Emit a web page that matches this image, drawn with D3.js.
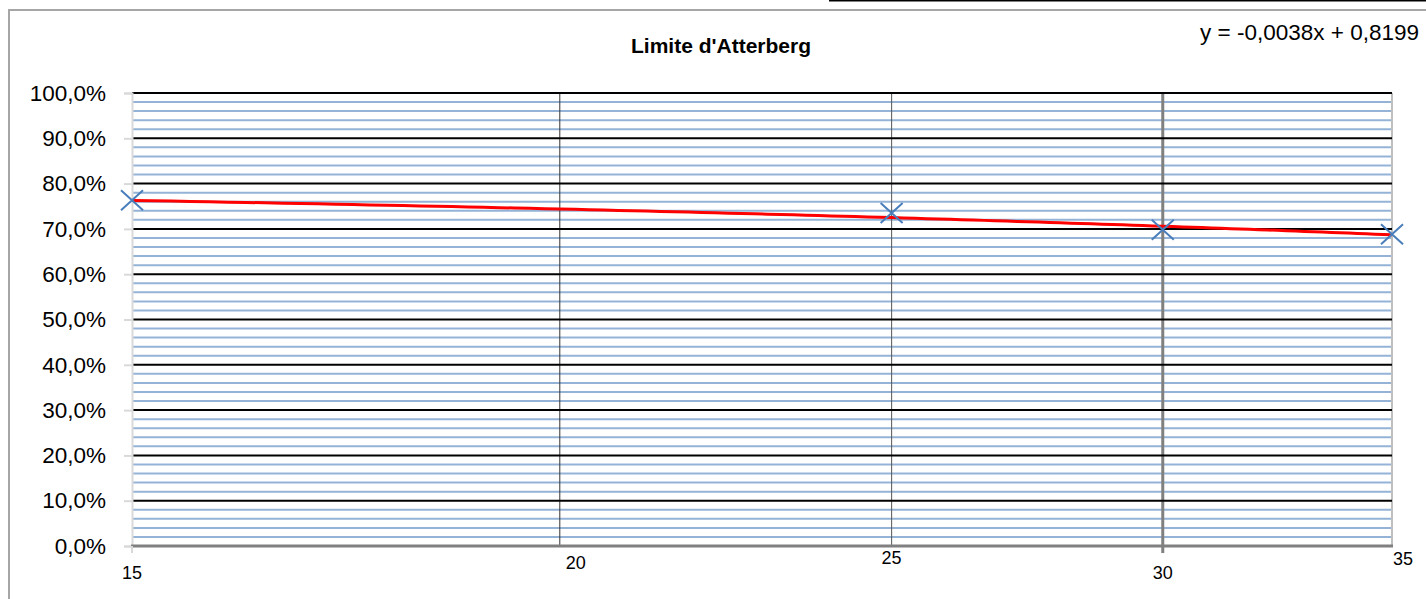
<!DOCTYPE html>
<html><head><meta charset="utf-8">
<script src="https://cdn.jsdelivr.net/npm/d3@7"></script>
<style>
html,body{margin:0;padding:0;background:#fff;}
svg{display:block;}
text{font-family:"Liberation Sans",Arial,sans-serif;fill:#000;}
</style></head>
<body>
<svg id="chart" width="1426" height="599"></svg>
<script>
// ---- data ----
const title = "Limite d'Atterberg";
const xValues = [15, 25, 30, 35];
const yValues = [0.763, 0.735, 0.698, 0.688];
const xTicks = [15, 20, 25, 30, 35];
const yTicks = [0, 0.1, 0.2, 0.3, 0.4, 0.5, 0.6, 0.7, 0.8, 0.9, 1.0];
const trendSlope = -0.0038;
const trendIntercept = 0.8199;
const equationLabel = "y = -0,0038x + 0,8199";

// ---- layout ----
const svg = d3.select("#chart");
const plot = {left: 132, right: 1392, top: 93, bottom: 546};
const x = d3.scaleLog().domain([15, 35]).range([plot.left, plot.right]);
const y = d3.scaleLinear().domain([0, 1]).range([plot.bottom, plot.top]);
const fmtPct = v => d3.format(".1f")(v * 100).replace(".", ",") + "%";

// frame
svg.append("line").attr("x1", 829).attr("x2", 1426).attr("y1", 0.5).attr("y2", 0.5)
  .attr("stroke", "#000").attr("stroke-width", 2);
svg.append("rect").attr("x", 9).attr("y", 10).attr("width", 1430).attr("height", 600)
  .attr("fill", "none").attr("stroke", "#a6a6a6").attr("stroke-width", 2);

// minor horizontal grid (every 2%)
const minor = d3.range(0, 51).map(i => i / 50).filter((v, i) => i % 5 !== 0);
svg.append("g").selectAll("line").data(minor).join("line")
  .attr("x1", plot.left).attr("x2", plot.right)
  .attr("y1", d => y(d)).attr("y2", d => y(d))
  .attr("stroke", "#95b3d7").attr("stroke-width", 2);

// vertical grid lines
const vStyle = {20: ["#333", 1], 25: ["#555", 1], 30: ["#808080", 3], 35: ["#bfbfbf", 2]};
svg.append("g").selectAll("line").data(xTicks.filter(d => vStyle[d])).join("line")
  .attr("x1", d => x(d)).attr("x2", d => x(d))
  .attr("y1", plot.top).attr("y2", plot.bottom)
  .attr("stroke", d => vStyle[d][0]).attr("stroke-width", d => vStyle[d][1]);

// major horizontal grid
svg.append("g").selectAll("line").data(yTicks.filter(d => d > 0)).join("line")
  .attr("x1", plot.left).attr("x2", plot.right)
  .attr("y1", d => y(d)).attr("y2", d => y(d))
  .attr("stroke", "#000").attr("stroke-width", 2);

// y axis
const yAxis = svg.append("g").attr("transform", `translate(${plot.left},0)`)
  .call(d3.axisLeft(y).tickValues(yTicks).tickFormat(fmtPct).tickSize(8).tickPadding(18));
yAxis.select(".domain").attr("stroke", "#d9d9d9").attr("stroke-width", 2);
yAxis.selectAll(".tick line").attr("stroke", "#d9d9d9").attr("stroke-width", 2);
yAxis.selectAll(".tick text").attr("font-size", 22.5).attr("font-family", "Liberation Sans, Arial, sans-serif").attr("fill", "#000");

// x axis
const xLabelShift = {15: [0, 27], 20: [16, 17], 25: [0, 12], 30: [0, 27], 35: [11, 13]};
const xTickLen = {15: 7, 30: 7};
const xAxisG = svg.append("g");
xAxisG.append("line").attr("x1", plot.left - 1).attr("x2", plot.right + 1)
  .attr("y1", plot.bottom).attr("y2", plot.bottom)
  .attr("stroke", "#808080").attr("stroke-width", 3);
xAxisG.selectAll("line.tk").data(xTicks.filter(d => xTickLen[d])).join("line").attr("class", "tk")
  .attr("x1", d => x(d)).attr("x2", d => x(d))
  .attr("y1", plot.bottom).attr("y2", d => plot.bottom + xTickLen[d])
  .attr("stroke", d => d === 15 ? "#d9d9d9" : "#808080").attr("stroke-width", d => d === 15 ? 2 : 3);
xAxisG.selectAll("text").data(xTicks).join("text")
  .attr("x", d => x(d) + xLabelShift[d][0])
  .attr("y", d => plot.bottom + xLabelShift[d][1])
  .attr("dy", "0.35em").attr("text-anchor", "middle").attr("font-size", 18)
  .text(d => d);

// trend line
const trendX = d3.range(0, 101).map(i => 15 + i * 0.2);
const line = d3.line().x(d => x(d)).y(d => y(trendSlope * d + trendIntercept));
svg.append("path").datum(trendX).attr("d", line)
  .attr("fill", "none").attr("stroke", "#ff0000").attr("stroke-width", 3);

// markers (x shape)
const pts = xValues.map((v, i) => [v, yValues[i]]);
const mk = svg.append("g").selectAll("g").data(pts).join("g")
  .attr("transform", d => `translate(${x(d[0])},${y(d[1])})`);
mk.append("path").attr("d", "M-11,-10L11,10M-11,10L11,-10")
  .attr("stroke", "#4a7ebb").attr("stroke-width", 2).attr("fill", "none");

// title and equation
svg.append("text").attr("x", 721).attr("y", 53).attr("text-anchor", "middle")
  .attr("font-size", 21).attr("font-weight", "bold").text(title);
svg.append("text").attr("x", 1419).attr("y", 40).attr("text-anchor", "end")
  .attr("font-size", 22.5).text(equationLabel);
</script>
</body></html>
